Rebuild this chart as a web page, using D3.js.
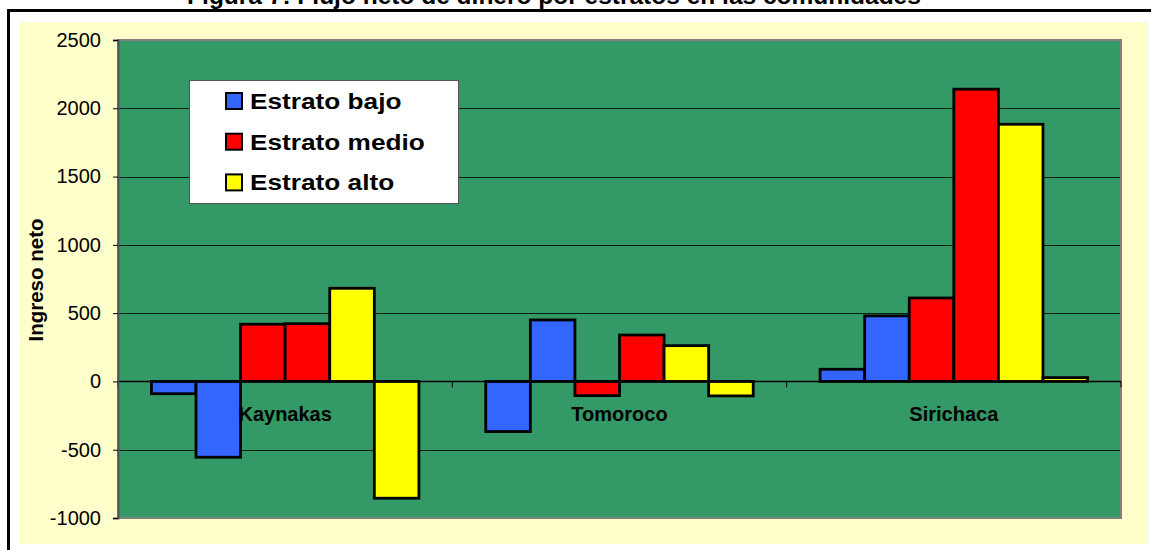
<!DOCTYPE html>
<html>
<head>
<meta charset="utf-8">
<script src="https://cdn.jsdelivr.net/npm/d3@7"></script>
<style>
  body { margin: 0; background: #fff; }
  svg { display: block; font-family: Arial, "Liberation Sans", sans-serif; }
</style>
</head>
<body>
<script>
// data
var categories = ["Kaynakas", "Tomoroco", "Sirichaca"];
var seriesNames = ["Estrato bajo", "Estrato medio", "Estrato alto"];
var seriesColors = ["#3366FF", "#FF0000", "#FFFF00"];
// two bars per stratum in every community (community order as above)
var bajo  = [-90, -555, -367, 450, 89, 480];
var medio = [419, 423, -104, 340, 611, 2140];
var alto  = [682, -855, 262, -106, 1883, 28];
var yTicks = [-1000, -500, 0, 500, 1000, 1500, 2000, 2500];

var width = 1151, height = 550;
var plot = { left: 118, right: 1121, top: 40, bottom: 518 };

var svg = d3.select("body").append("svg")
    .attr("width", width)
    .attr("height", height);

// chart background
svg.append("rect")
    .attr("x", 20).attr("y", 22)
    .attr("width", 1128).attr("height", 522)
    .attr("fill", "#FFFFCC");

// outer frame (runs off the page on right and bottom)
svg.append("path")
    .attr("d", "M8.5,560 V10.5 H1160")
    .attr("fill", "none")
    .attr("stroke", "#000")
    .attr("stroke-width", 3);

// title, mostly cut off by the top edge
svg.append("text")
    .attr("x", 554).attr("y", 4)
    .attr("text-anchor", "middle")
    .style("font-size", "24.5px")
    .style("font-weight", "bold")
    .text("Figura 7: Flujo neto de dinero por estratos en las comunidades");

var y = d3.scaleLinear().domain([-1000, 2500]).range([plot.bottom, plot.top]);
var x = d3.scaleBand().domain(categories).range([plot.left, plot.right]);

// build rows: per community, bajo, bajo, medio, medio, alto, alto
var rows = [];
categories.forEach(function(c, i) {
    [bajo, medio, alto].forEach(function(arr, s) {
        rows.push({ cat: c, slot: s * 2, s: s, v: arr[i * 2] });
        rows.push({ cat: c, slot: s * 2 + 1, s: s, v: arr[i * 2 + 1] });
    });
});
var xi = d3.scaleBand().domain(d3.range(6)).range([0, x.bandwidth()])
    .paddingInner(0).paddingOuter(0.75);

// plot area
svg.append("rect")
    .attr("x", plot.left).attr("y", plot.top)
    .attr("width", plot.right - plot.left).attr("height", plot.bottom - plot.top)
    .attr("fill", "#339966");

// gridlines
svg.append("g").selectAll("line")
    .data(yTicks.filter(function(t) { return t !== -1000 && t !== 2500; }))
    .join("line")
    .attr("x1", plot.left).attr("x2", plot.right)
    .attr("y1", function(d) { return Math.round(y(d)) + 0.5; })
    .attr("y2", function(d) { return Math.round(y(d)) + 0.5; })
    .attr("stroke", "#000")
    .attr("stroke-opacity", 0.8)
    .attr("stroke-width", 1);

// plot border
svg.append("rect")
    .attr("x", plot.left).attr("y", plot.top)
    .attr("width", plot.right - plot.left).attr("height", plot.bottom - plot.top)
    .attr("fill", "none")
    .attr("stroke", "#808080")
    .attr("stroke-width", 2);

// bars
svg.append("g").selectAll("rect")
    .data(rows)
    .join("rect")
    .attr("x", function(d) { return x(d.cat) + xi(d.slot); })
    .attr("width", xi.bandwidth())
    .attr("y", function(d) { return y(Math.max(0, d.v)); })
    .attr("height", function(d) { return Math.abs(y(d.v) - y(0)); })
    .attr("fill", function(d) { return seriesColors[d.s]; })
    .attr("stroke", "#000")
    .attr("stroke-width", 2.8);

// x axis at zero with ticks between categories
var xAxis = svg.append("g").attr("transform", "translate(0," + y(0) + ")");
xAxis.append("line")
    .attr("x1", plot.left).attr("x2", plot.right)
    .attr("stroke", "#000").attr("stroke-width", 1.5);
xAxis.selectAll(".tk")
    .data(categories.map(function(c) { return x(c); }).concat([plot.right]))
    .join("line")
    .attr("class", "tk")
    .attr("x1", function(d) { return d; }).attr("x2", function(d) { return d; })
    .attr("y1", 0).attr("y2", 6)
    .attr("stroke", "#000");

// category labels
svg.append("g").selectAll("text")
    .data(categories)
    .join("text")
    .attr("x", function(d) { return x(d) + x.bandwidth() / 2; })
    .attr("y", 421)
    .attr("text-anchor", "middle")
    .style("font-size", "20px")
    .style("font-weight", "bold")
    .text(function(d) { return d; });

// y axis
var yAxis = svg.append("g")
    .attr("transform", "translate(" + plot.left + ",0)")
    .call(d3.axisLeft(y).tickValues(yTicks).tickSize(5).tickPadding(12)
        .tickFormat(function(d) { return String(d); }));
yAxis.select(".domain").attr("stroke", "#555").attr("stroke-width", 2);
yAxis.selectAll(".tick line").attr("stroke", "#000");
yAxis.selectAll(".tick text")
    .style("font-size", "20px")
    .style("font-family", "Arial, 'Liberation Sans', sans-serif")
    .attr("fill", "#000");

svg.append("text")
    .attr("transform", "translate(43,280) rotate(-90)")
    .attr("text-anchor", "middle")
    .style("font-size", "20.5px")
    .style("font-weight", "bold")
    .text("Ingreso neto");

// legend
var legend = svg.append("g");
legend.append("rect")
    .attr("x", 189.5).attr("y", 80.5)
    .attr("width", 269).attr("height", 123)
    .attr("fill", "#fff")
    .attr("stroke", "#555")
    .attr("stroke-width", 1);
var items = legend.selectAll(".item")
    .data(seriesNames)
    .join("g")
    .attr("class", "item")
    .attr("transform", function(d, i) { return "translate(0," + (i * 40.7) + ")"; });
items.append("rect")
    .attr("x", 226).attr("y", 93)
    .attr("width", 16).attr("height", 16)
    .attr("fill", function(d, i) { return seriesColors[i]; })
    .attr("stroke", "#000")
    .attr("stroke-width", 2);
// legend text in the original is drawn a bit wider than normal
items.append("text")
    .attr("transform", "translate(250,109) scale(1.22,1)")
    .style("font-size", "21.5px")
    .style("font-weight", "bold")
    .text(function(d) { return d; });
</script>
</body>
</html>
